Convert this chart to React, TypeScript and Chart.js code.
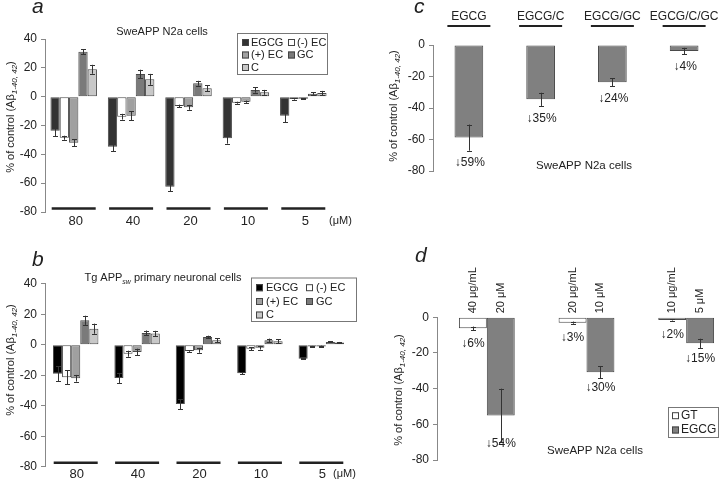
import React, { useEffect, useRef } from "react";
import { Chart, registerables } from "chart.js";

Chart.register(...registerables);

const FONT = "'Liberation Sans', Arial, Helvetica, sans-serif";

// ---------- Panel a: SweAPP N2a cells ----------
const doseLabels = ["80", "40", "20", "10", "5"];
const catechinNames = ["EGCG", "(-) EC", "(+) EC", "GC", "C"];
const aEGCG = [-23.6, -34.7, -62.5, -28.9, -13.2];
const aEGCGErr = [3.8, 3, 3, 3.7, 4.4];
const aNegEC = [-28.5, -13.9, -6.5, -4.2, -1.6];
const aNegECErr = [1.4, 2, 1, 0.7, 0.5];
const aPosEC = [-32, -13.2, -7.4, -3.5, -1.4];
const aPosECErr = [2.3, 3, 1.7, 0.8, 0.4];
const aGC = [31.2, 15.7, 9.3, 4.6, 2.1];
const aGCErr = [1.7, 3, 1.7, 1.8, 0.8];
const aC = [19, 12, 5.8, 3, 2.5];
const aCErr = [3.1, 3.8, 2, 1.7, 1.5];

// ---------- Panel b: Tg APPsw primary neuronal cells ----------
const bEGCG = [-19.1, -21.8, -38.9, -18.7, -9.2];
const bEGCGErr = [5, 3.3, 3.3, 0.8, 0.5];
const bNegEC = [-21.3, -5.9, -4.2, -2.6, -1.1];
const bNegECErr = [4.6, 2, 0.5, 1, 0.3];
const bPosEC = [-22, -4.8, -3.7, -2, -1.1];
const bPosECErr = [2.2, 2.2, 1.6, 1.2, 0.5];
const bGC = [16, 7.7, 5, 2.9, 1.8];
const bGCErr = [3, 1.6, 0.9, 1.1, 0.3];
const bC = [10.5, 7.3, 2.9, 2.2, 1.5];
const bCErr = [3.3, 1.8, 1.4, 1.4, 0.3];

// ---------- Panel c: combinations ----------
const comboLabels = ["EGCG", "EGCG/C", "EGCG/GC", "EGCG/C/GC"];
const comboValues = [-58.8, -34.5, -23.7, -3.8];
const comboErr = [8.3, 4.2, 2.5, 2];
const comboPct = ["↓59%", "↓35%", "↓24%", "↓4%"];

// ---------- Panel d: GT vs EGCG ----------
const dGroups = ["high", "mid", "low"];
const gtValues = [-6.2, -3, -1.5];
const gtErr = [1, 0.6, 0.3];
const egcgValues = [-55, -30.8, -14.6];
const egcgErr = [15, 3.5, 2.6];
const gtDose = ["40 μg/mL", "20 μg/mL", "10 μg/mL"];
const egcgDose = ["20 μM", "10 μM", "5 μM"];
const gtPct = ["↓6%", "↓3%", "↓2%"];
const egcgPct = ["↓54%", "↓30%", "↓15%"];

const aColors = ["#333333", "#ffffff", "#a0a0a0", "#7a7a7a", "#c8c8c8"];
const bColors = ["#000000", "#ffffff", "#a0a0a0", "#7a7a7a", "#c8c8c8"];
const BORDER = "#4a4a4a";
const INK = "#222222";

function txt(
  ctx: CanvasRenderingContext2D,
  s: string,
  x: number,
  y: number,
  size: number,
  align: CanvasTextAlign = "center",
  opts: { style?: string; baseline?: CanvasTextBaseline; color?: string } = {}
) {
  ctx.font = `${opts.style || ""} ${size}px ${FONT}`;
  ctx.fillStyle = opts.color || INK;
  ctx.textAlign = align;
  ctx.textBaseline = opts.baseline || "middle";
  ctx.fillText(s, x, y);
}

function hline(ctx: CanvasRenderingContext2D, x1: number, x2: number, y: number, w: number) {
  ctx.strokeStyle = INK;
  ctx.lineWidth = w;
  ctx.beginPath();
  ctx.moveTo(x1, y);
  ctx.lineTo(x2, y);
  ctx.stroke();
}

function yTitle(ctx: CanvasRenderingContext2D, cx: number, cy: number) {
  ctx.save();
  ctx.translate(cx, cy);
  ctx.rotate(-Math.PI / 2);
  const m1 = "% of control (Aβ";
  const sb = "1-40, 42";
  const m2 = ")";
  ctx.font = `11px ${FONT}`;
  const w1 = ctx.measureText(m1).width;
  const w3 = ctx.measureText(m2).width;
  ctx.font = `italic 8px ${FONT}`;
  const w2 = ctx.measureText(sb).width;
  const x0 = -(w1 + w2 + w3) / 2;
  ctx.fillStyle = INK;
  ctx.textAlign = "left";
  ctx.textBaseline = "alphabetic";
  ctx.font = `11px ${FONT}`;
  ctx.fillText(m1, x0, 4);
  ctx.font = `italic 8px ${FONT}`;
  ctx.fillText(sb, x0 + w1, 6.5);
  ctx.font = `11px ${FONT}`;
  ctx.fillText(m2, x0 + w1 + w2, 4);
  ctx.restore();
}

function legendBox(
  ctx: CanvasRenderingContext2D,
  bx: number,
  by: number,
  bw: number,
  bh: number,
  items: { label: string; color: string; x: number; y: number }[],
  size: number,
  gap: number
) {
  ctx.strokeStyle = "#777";
  ctx.lineWidth = 1;
  ctx.strokeRect(bx + 0.5, by + 0.5, bw, bh);
  items.forEach((it) => {
    ctx.fillStyle = it.color;
    ctx.fillRect(it.x, it.y - 3.5, 7, 7);
    ctx.strokeStyle = "#444";
    ctx.strokeRect(it.x + 0.5, it.y - 3.5 + 0.5, 6, 6);
    txt(ctx, it.label, it.x + gap, it.y, size, "left");
  });
}

const errorBarPlugin = {
  id: "errorBars",
  afterDatasetsDraw(chart: any) {
    const ctx = chart.ctx as CanvasRenderingContext2D;
    const ys = chart.scales.y;
    chart.data.datasets.forEach((ds: any, di: number) => {
      const errs = ds.errors as number[] | undefined;
      if (!errs) return;
      const meta = chart.getDatasetMeta(di);
      meta.data.forEach((el: any, i: number) => {
        const v = ds.data[i];
        const e = errs[i];
        const x = Math.round(el.x) + 0.5;
        const y1 = ys.getPixelForValue(v - e);
        const y2 = ys.getPixelForValue(v + e);
        ctx.save();
        ctx.strokeStyle = "#333";
        ctx.lineWidth = 1;
        ctx.beginPath();
        ctx.moveTo(x, y1);
        ctx.lineTo(x, y2);
        ctx.moveTo(x - 2.5, Math.round(y1) + 0.5);
        ctx.lineTo(x + 2.5, Math.round(y1) + 0.5);
        ctx.moveTo(x - 2.5, Math.round(y2) + 0.5);
        ctx.lineTo(x + 2.5, Math.round(y2) + 0.5);
        ctx.stroke();
        ctx.restore();
      });
    });
  },
};

type Helpers = {
  px: (i: number) => number;
  py: (v: number) => number;
  barX: (di: number, i: number) => number;
};

function decoPlugin(ox: number, oy: number, draw: (chart: any, ctx: CanvasRenderingContext2D, P: Helpers) => void) {
  return {
    id: "deco",
    afterDraw(chart: any) {
      const ctx = chart.ctx as CanvasRenderingContext2D;
      ctx.save();
      ctx.translate(-ox, -oy);
      draw(chart, ctx, {
        px: (i) => chart.scales.x.getPixelForValue(i) + ox,
        py: (v) => chart.scales.y.getPixelForValue(v) + oy,
        barX: (di, i) => chart.getDatasetMeta(di).data[i].x + ox,
      });
      ctx.restore();
    },
  };
}

function yAxis(min: number, max: number) {
  return {
    min,
    max,
    ticks: { stepSize: 20, color: INK, font: { family: FONT, size: 12 }, padding: 4 },
    grid: { display: true, drawOnChartArea: false, drawTicks: true, tickLength: 4, color: "#888" },
    border: { display: true, color: "#888", width: 1 },
    afterFit: (s: any) => {
      s.width = 40;
    },
  };
}

function barDs(label: string, data: number[], errors: number[], color: string) {
  return {
    label,
    data,
    errors,
    backgroundColor: color,
    borderColor: BORDER,
    borderWidth: 1,
    borderSkipped: false as const,
  };
}

function baseOptions(padding: any, catPct: number, min: number, max: number) {
  return {
    responsive: false,
    animation: false as const,
    events: [] as any[],
    layout: { padding },
    datasets: { bar: { categoryPercentage: catPct, barPercentage: 1 } },
    plugins: { legend: { display: false }, tooltip: { enabled: false }, title: { display: false } },
    scales: {
      x: { display: false },
      y: yAxis(min, max),
    },
  };
}

// ---------- configs ----------
function configA(ox: number, oy: number) {
  const series = [aEGCG, aNegEC, aPosEC, aGC, aC];
  const errs = [aEGCGErr, aNegECErr, aPosECErr, aGCErr, aCErr];
  return {
    type: "bar" as const,
    data: {
      labels: doseLabels,
      datasets: series.map((d, i) => barDs(catechinNames[i], d, errs[i], aColors[i])),
    },
    options: baseOptions({ left: 5, top: 39, right: 28, bottom: 28 }, 0.81, -80, 40),
    plugins: [
      errorBarPlugin,
      decoPlugin(ox, oy, (chart, ctx, P) => {
        txt(ctx, "a", 32, 13, 21, "left", { style: "italic", baseline: "alphabetic" });
        txt(ctx, "SweAPP N2a cells", 162, 32, 11);
        yTitle(ctx, 10, 117);
        doseLabels.forEach((d, i) => {
          const cx = P.px(i);
          hline(ctx, cx - 22, cx + 22, 208.5, 2.5);
          txt(ctx, d, cx + 2, 221, 13);
        });
        txt(ctx, "(μM)", 329, 221, 11, "left");
        legendBox(
          ctx,
          237,
          33,
          90,
          41,
          catechinNames.map((n, i) => ({
            label: n,
            color: aColors[i],
            x: [242, 288][i % 2],
            y: [42.5, 55, 67.5][Math.floor(i / 2)],
          })),
          11,
          9
        );
      }),
    ],
  };
}

function configB(ox: number, oy: number) {
  const series = [bEGCG, bNegEC, bPosEC, bGC, bC];
  const errs = [bEGCGErr, bNegECErr, bPosECErr, bGCErr, bCErr];
  return {
    type: "bar" as const,
    data: {
      labels: doseLabels,
      datasets: series.map((d, i) => barDs(catechinNames[i], d, errs[i], bColors[i])),
    },
    options: baseOptions({ left: 5, top: 43.7, right: 18, bottom: 13.3 }, 0.74, -80, 40),
    plugins: [
      errorBarPlugin,
      decoPlugin(ox, oy, (chart, ctx, P) => {
        txt(ctx, "b", 32, 266, 21, "left", { style: "italic", baseline: "alphabetic" });
        // title with subscript
        ctx.font = `11px ${FONT}`;
        const t1 = "Tg APP";
        const t3 = " primary neuronal cells";
        const w1 = ctx.measureText(t1).width;
        const w3 = ctx.measureText(t3).width;
        ctx.font = `italic 7px ${FONT}`;
        const w2 = ctx.measureText("sw").width;
        const x0 = 163 - (w1 + w2 + w3) / 2;
        txt(ctx, t1, x0, 281, 11, "left", { baseline: "alphabetic" });
        txt(ctx, "sw", x0 + w1, 283.5, 7, "left", { baseline: "alphabetic", style: "italic" });
        txt(ctx, t3, x0 + w1 + w2, 281, 11, "left", { baseline: "alphabetic" });
        yTitle(ctx, 10, 360);
        doseLabels.forEach((d, i) => {
          const cx = P.px(i);
          hline(ctx, cx - 22, cx + 22, 462.7, 2.5);
          txt(ctx, d, cx + 1, 474, 13);
        });
        txt(ctx, "(μM)", 333, 474, 11, "left");
        legendBox(
          ctx,
          251,
          277.5,
          105,
          43.5,
          catechinNames.map((n, i) => ({
            label: n,
            color: bColors[i],
            x: [256, 306][i % 2],
            y: [287.7, 301.5, 315][Math.floor(i / 2)],
          })),
          11,
          10
        );
      }),
    ],
  };
}

function configC(ox: number, oy: number) {
  return {
    type: "bar" as const,
    data: {
      labels: comboLabels,
      datasets: [barDs("EGCG combinations", comboValues, comboErr, "#808080")],
    },
    options: baseOptions({ left: 33, top: 45, right: 0, bottom: 69 }, 0.4, -80, 0),
    plugins: [
      errorBarPlugin,
      decoPlugin(ox, oy, (chart, ctx, P) => {
        txt(ctx, "c", 414, 13, 21, "left", { style: "italic", baseline: "alphabetic" });
        yTitle(ctx, 393, 106);
        comboLabels.forEach((c, i) => {
          const cx = P.px(i);
          txt(ctx, c, cx, 17, 12);
          hline(ctx, cx - 21.5, cx + 21.5, 26, 2);
          txt(ctx, comboPct[i], cx + 1, P.py(comboValues[i] - comboErr[i]) + 12.5, 12);
        });
        txt(ctx, "SweAPP N2a cells", 584, 166, 11.5);
      }),
    ],
  };
}

function configD(ox: number, oy: number) {
  return {
    type: "bar" as const,
    data: {
      labels: dGroups,
      datasets: [
        barDs("GT", gtValues, gtErr, "#ffffff"),
        barDs("EGCG", egcgValues, egcgErr, "#808080"),
      ],
    },
    options: baseOptions({ left: 37, top: 77.3, right: 24, bottom: 20 }, 0.56, -80, 0),
    plugins: [
      errorBarPlugin,
      decoPlugin(ox, oy, (chart, ctx, P) => {
        txt(ctx, "d", 415, 262, 21, "left", { style: "italic", baseline: "alphabetic" });
        yTitle(ctx, 398, 390);
        const zero = P.py(0);
        const groups = [
          { vals: gtValues, errs: gtErr, dose: gtDose, pct: gtPct },
          { vals: egcgValues, errs: egcgErr, dose: egcgDose, pct: egcgPct },
        ];
        groups.forEach((g, di) => {
          g.vals.forEach((v, i) => {
            const bx = P.barX(di, i);
            ctx.save();
            ctx.translate(bx, zero - 4);
            ctx.rotate(-Math.PI / 2);
            txt(ctx, g.dose[i], 0, 0, 11, "left");
            ctx.restore();
            const yb = Math.max(P.py(v) + 15, P.py(v - g.errs[i]) + 2);
            txt(ctx, g.pct[i], bx, yb, 12);
          });
        });
        legendBox(
          ctx,
          668,
          407,
          50,
          30,
          [
            { label: "GT", color: "#ffffff", x: 672, y: 415.7 },
            { label: "EGCG", color: "#808080", x: 672, y: 430 },
          ],
          12,
          9
        );
        txt(ctx, "SweAPP N2a cells", 595, 451, 11.5);
      }),
    ],
  };
}

function Panel({ x, y, w, h, build }: { x: number; y: number; w: number; h: number; build: (ox: number, oy: number) => any }) {
  const ref = useRef<HTMLCanvasElement>(null);
  useEffect(() => {
    const chart = new Chart(ref.current as HTMLCanvasElement, build(x, y));
    return () => chart.destroy();
  }, []);
  return (
    <canvas
      ref={ref}
      width={w}
      height={h}
      style={{ position: "absolute", left: x, top: y, width: w, height: h }}
    />
  );
}

export default function App() {
  return (
    <div
      style={{
        position: "absolute",
        left: 0,
        top: 0,
        width: 720,
        height: 480,
        overflow: "hidden",
        background: "#ffffff",
      }}
    >
      <Panel x={0} y={0} w={360} h={240} build={configA} />
      <Panel x={360} y={0} w={360} h={240} build={configC} />
      <Panel x={0} y={240} w={370} h={240} build={configB} />
      <Panel x={360} y={240} w={400} h={240} build={configD} />
    </div>
  );
}
